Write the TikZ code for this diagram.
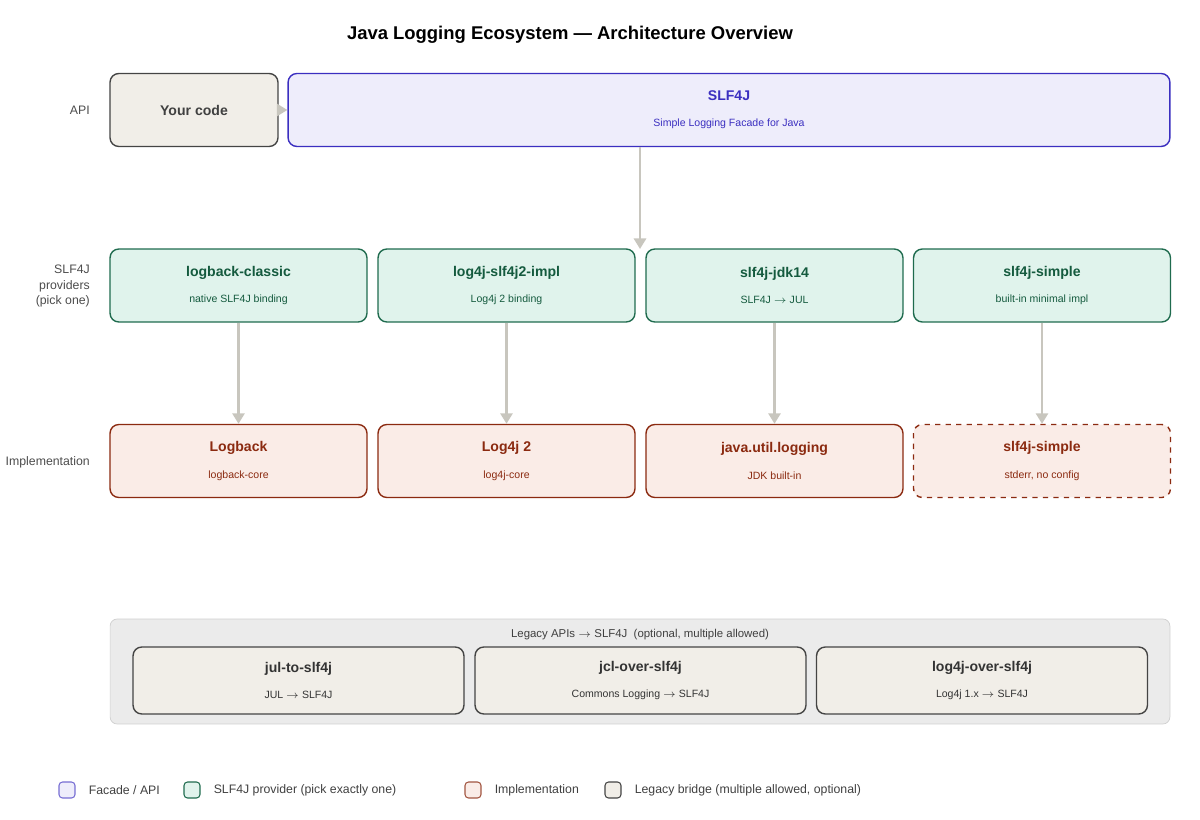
\documentclass[tikz,border=0pt]{standalone}
\usepackage{fontspec}
\setmainfont{Liberation Sans}
\usetikzlibrary{arrows.meta,positioning}
\definecolor{facadefill}{HTML}{EEEDFB}
\definecolor{facadeline}{HTML}{3B2FC0}
\definecolor{provfill}{HTML}{E0F3EC}
\definecolor{provline}{HTML}{1F6B4E}
\definecolor{provtext}{HTML}{145A3E}
\definecolor{implfill}{HTML}{FAECE7}
\definecolor{implline}{HTML}{8B2A10}
\definecolor{legfill}{HTML}{F1EEE8}
\definecolor{legline}{HTML}{444444}
\definecolor{boxfill}{HTML}{EBEBEB}
\definecolor{boxline}{HTML}{D0D0D0}
\definecolor{arrowgray}{HTML}{C8C6BE}
\tikzset{
  box/.style = {rectangle, rounded corners=5pt, minimum width=5.14cm, minimum height=1.46cm, align=center, inner sep=0pt, line width=0.8pt},
  facade/.style = {box, fill=facadefill, draw=facadeline, text=facadeline},
  provider/.style = {box, fill=provfill, draw=provline, text=provtext},
  impl/.style = {box, fill=implfill, draw=implline, text=implline},
  legacy/.style = {box, fill=legfill, draw=legline, text=black!80, minimum width=6.62cm, minimum height=1.34cm},
  rowlabel/.style = {anchor=east, align=right, font=\fontsize{7}{9}\selectfont, text=black!70},
  legkey/.style = {rectangle, rounded corners=2pt, minimum size=0.32cm, inner sep=0pt, line width=0.6pt},
  legtext/.style = {anchor=west, font=\fontsize{7}{9}\selectfont, text=black!75},
  arrow/.style = {draw=arrowgray, line width=1.2pt, -{Triangle[length=6pt,width=7pt]}}
}
\newcommand{\boxtext}[2]{{\fontsize{8}{10}\selectfont\bfseries #1}\\[3pt]{\fontsize{6}{8}\selectfont #2}}
\begin{document}
\begin{tikzpicture}[x=0.02cm, y=-0.02cm]
\useasboundingbox (0,0) rectangle (1200,820);
\node (title) at (570,35) {\fontsize{10.5}{12}\selectfont\bfseries Java Logging Ecosystem --- Architecture Overview};
% row labels
\node [rowlabel] (lapi) at (96,110) {API};
\node [rowlabel] (lprov) at (96,286) {SLF4J\\providers\\(pick one)};
\node [rowlabel] (limpl) at (96,462) {Implementation};
% api row
\node (code) [box, fill=legfill, draw=legline, text=black!75, minimum width=3.36cm] at (194,110) {\fontsize{8}{10}\selectfont\bfseries Your code};
\node (slf) [facade, minimum width=17.64cm] at (729,110) {\boxtext{SLF4J}{Simple Logging Facade for Java}};
% providers
\node (pa) [provider] at (238.5,285.5) {\boxtext{logback-classic}{native SLF4J binding}};
\node (pb) [provider] at (506.5,285.5) {\boxtext{log4j-slf4j2-impl}{Log4j 2 binding}};
\node (pc) [provider] at (774.5,285.5) {\boxtext{slf4j-jdk14}{SLF4J $\rightarrow$ JUL}};
\node (pd) [provider] at (1042,285.5) {\boxtext{slf4j-simple}{built-in minimal impl}};
% implementations
\node (ia) [impl] at (238.5,461) {\boxtext{Logback}{logback-core}};
\node (ib) [impl] at (506.5,461) {\boxtext{Log4j 2}{log4j-core}};
\node (ic) [impl] at (774.5,461) {\boxtext{java.util.logging}{JDK built-in}};
\node (id) [impl, dashed] at (1042,461) {\boxtext{slf4j-simple}{stderr, no config}};
% legacy bridges
\node (legbox) [rectangle, rounded corners=4pt, fill=boxfill, draw=boxline, minimum width=21.2cm, minimum height=2.1cm, inner sep=0pt] at (640,671.5) {};
\node (legtitle) [font=\fontsize{6.5}{8}\selectfont, text=black!75] at (640,635) {Legacy APIs $\rightarrow$ SLF4J\ \ (optional, multiple allowed)};
\node (ja) [legacy] at (298.5,680.5) {\boxtext{jul-to-slf4j}{JUL $\rightarrow$ SLF4J}};
\node (jb) [legacy] at (640.5,680.5) {\boxtext{jcl-over-slf4j}{Commons Logging $\rightarrow$ SLF4J}};
\node (jc) [legacy] at (982,680.5) {\boxtext{log4j-over-slf4j}{Log4j 1.x $\rightarrow$ SLF4J}};
% connectors
\coordinate (hub) at (640,249);
\draw [arrow] (code) -- (slf);
\draw [arrow] (slf.south -| hub) -- (hub);
\draw [arrow] (pa) -- (ia);
\draw [arrow] (pb) -- (ib);
\draw [arrow] (pc) -- (ic);
\draw [arrow] (pd) -- (id);
% legend
\node (ka) [legkey, fill=facadefill, draw=facadeline!70] at (67,790) {};
\node [legtext, right=4pt of ka] {Facade / API};
\node (kb) [legkey, fill=provfill, draw=provline] at (192,790) {};
\node [legtext, right=4pt of kb] {SLF4J provider (pick exactly one)};
\node (kc) [legkey, fill=implfill, draw=implline!80] at (473,790) {};
\node [legtext, right=4pt of kc] {Implementation};
\node (kd) [legkey, fill=legfill, draw=legline] at (613,790) {};
\node [legtext, right=4pt of kd] {Legacy bridge (multiple allowed, optional)};
\end{tikzpicture}
\end{document}
